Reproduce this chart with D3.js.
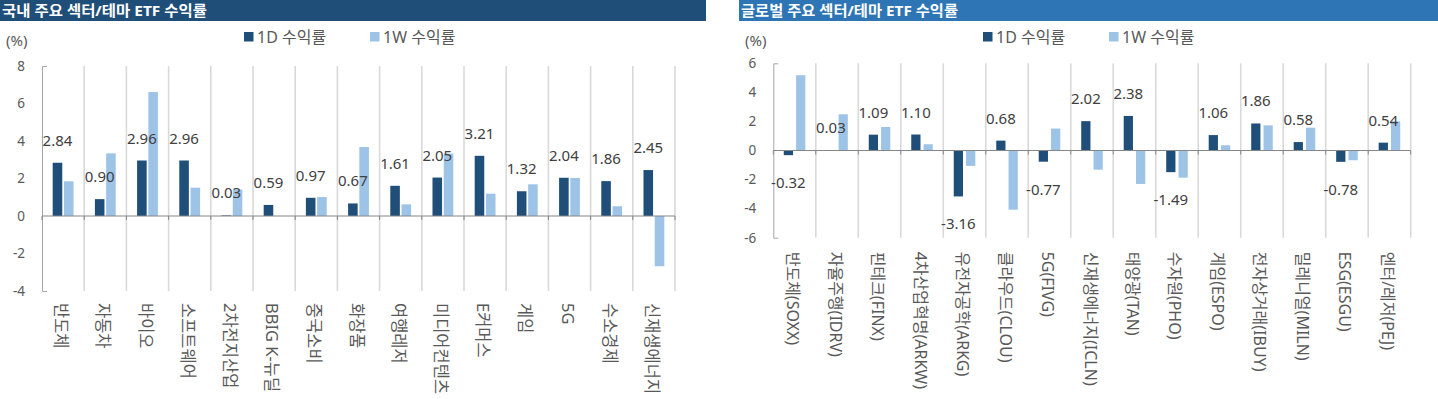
<!DOCTYPE html>
<html>
<head>
<meta charset="utf-8">
<style>
    body { margin: 0; background: #ffffff; }
    #chart { width: 1438px; height: 399px; }
    text { font-family: "Noto Sans", "Noto Sans CJK KR", sans-serif; }
</style>
</head>
<body>
<div id="chart"></div>
<script src="https://cdn.jsdelivr.net/npm/d3@7"></script>
<script>
    // ---- data ----
    const seriesNames = ["1D 수익률", "1W 수익률"];

    const krTitle = "국내 주요 섹터/테마 ETF 수익률";
    const krCategories = ["반도체", "자동차", "바이오", "소프트웨어", "2차전지산업", "BBIG K-뉴딜", "중국소비",
        "화장품", "여행레저", "미디어컨텐츠", "E커머스", "게임", "5G", "수소경제", "신재생에너지"];
    const kr1D = [2.84, 0.90, 2.96, 2.96, 0.03, 0.59, 0.97, 0.67, 1.61, 2.05, 3.21, 1.32, 2.04, 1.86, 2.45];
    const kr1W = [1.85, 3.34, 6.61, 1.51, 1.41, 0, 1.01, 3.68, 0.62, 3.33, 1.19, 1.69, 2.03, 0.52, -2.68];
    const krTicks = [-4, -2, 0, 2, 4, 6, 8];

    const glTitle = "글로벌 주요 섹터/테마 ETF 수익률";
    const glCategories = ["반도체(SOXX)", "자율주행(IDRV)", "핀테크(FINX)", "4차산업혁명(ARKW)", "유전자공학(ARKG)",
        "클라우드(CLOU)", "5G(FIVG)", "신재생에너지(ICLN)", "태양광(TAN)", "수자원(PHO)", "게임(ESPO)",
        "전자상거래(IBUY)", "밀레니얼(MILN)", "ESG(ESGU)", "엔터/레저(PEJ)"];
    const gl1D = [-0.32, 0.03, 1.09, 1.10, -3.16, 0.68, -0.77, 2.02, 2.38, -1.49, 1.06, 1.86, 0.58, -0.78, 0.54];
    const gl1W = [5.18, 2.49, 1.62, 0.43, -1.06, -4.07, 1.51, -1.32, -2.30, -1.87, 0.36, 1.73, 1.57, -0.67, 2.01];
    const glTicks = [-6, -4, -2, 0, 2, 4, 6];

    const colors = ["#1F4E79", "#9DC3E6"];
    // plain hyphen for negatives, like the source
    const fmt = v => d3.format(".2f")(v).replace("\u2212", "-");
    const tickFmt = v => String(v);

    const svg = d3.select("#chart").append("svg")
        .attr("width", 1438)
        .attr("height", 399);

    const drawPanel = (opt) => {
        const g = svg.append("g");

        // title bar
        g.append("rect")
            .attr("x", opt.barX).attr("y", 0)
            .attr("width", opt.barW).attr("height", 21)
            .attr("fill", opt.barColor);
        g.append("text")
            .attr("x", opt.barX + 2).attr("y", 16)
            .attr("fill", "#ffffff")
            .style("font-size", "15px")
            .style("font-weight", "bold")
            .attr("textLength", opt.titleW)
            .attr("lengthAdjust", "spacingAndGlyphs")
            .text(opt.title);

        // unit
        g.append("text")
            .attr("x", opt.barX + 6).attr("y", 46)
            .attr("fill", "#595959")
            .style("font-size", "15px")
            .text("(%)");

        // legend
        const legend = g.selectAll(".legend")
            .data(seriesNames)
            .enter().append("g")
            .attr("transform", (d, i) => `translate(${opt.barX + 244 + i * 126}, 32)`);
        legend.append("rect")
            .attr("width", 9.5).attr("height", 9.5)
            .attr("fill", (d, i) => colors[i]);
        legend.append("text")
            .attr("x", 13).attr("y", 5)
            .attr("dominant-baseline", "central")
            .attr("fill", "#595959")
            .style("font-size", "16px")
            .text(d => d);

        const x = d3.scaleBand()
            .domain(opt.categories)
            .range([opt.left, opt.right]);
        const xs = d3.scaleBand()
            .domain(seriesNames)
            .range([0, x.bandwidth()])
            .paddingInner(opt.pIn)
            .paddingOuter(opt.pOut);
        const y = d3.scaleLinear()
            .domain(d3.extent(opt.ticks))
            .range([opt.bottom, opt.top]);

        // vertical gridlines at category boundaries
        const bounds = opt.categories.map(c => x(c)).concat([opt.right]);
        g.selectAll(".grid")
            .data(bounds.slice(1))
            .enter().append("line")
            .attr("x1", d => d).attr("x2", d => d)
            .attr("y1", opt.top).attr("y2", opt.bottom)
            .attr("stroke", "#D9D9D9")
            .attr("stroke-width", 1.6);

        // y axis
        const yAxis = g.append("g")
            .attr("transform", `translate(${opt.left},0)`)
            .call(d3.axisLeft(y).tickValues(opt.ticks).tickFormat(tickFmt)
                .tickSizeInner(0).tickSizeOuter(-5).tickPadding(17));
        yAxis.select(".domain").attr("stroke", "#A6A6A6");
        yAxis.selectAll("text")
            .attr("fill", "#595959")
            .style("font-size", "13.5px")
            .style("font-family", "'Noto Sans', sans-serif");

        // bars
        const rows = opt.categories.map((c, i) => ({ cat: c, vals: [opt.s1[i], opt.s2[i]] }));
        const groups = g.selectAll(".cat")
            .data(rows)
            .enter().append("g")
            .attr("transform", d => `translate(${x(d.cat)},0)`);
        groups.selectAll("rect")
            .data(d => d.vals.map((v, i) => ({ key: seriesNames[i], v, i })))
            .enter().append("rect")
            .attr("x", d => xs(d.key))
            .attr("width", xs.bandwidth())
            .attr("y", d => y(Math.max(0, d.v)))
            .attr("height", d => Math.abs(y(d.v) - y(0)))
            .attr("fill", d => colors[d.i]);

        // zero line with small ticks
        g.append("line")
            .attr("x1", opt.left).attr("x2", opt.right)
            .attr("y1", y(0)).attr("y2", y(0))
            .attr("stroke", "#868686").attr("stroke-width", 1);
        g.selectAll(".ztick")
            .data(bounds)
            .enter().append("line")
            .attr("x1", d => d).attr("x2", d => d)
            .attr("y1", y(0)).attr("y2", y(0) + 4)
            .attr("stroke", "#868686").attr("stroke-width", 1);

        // 1D value labels
        g.selectAll(".vlabel")
            .data(rows)
            .enter().append("text")
            .attr("x", d => x(d.cat) + xs(seriesNames[0]) + xs.bandwidth() / 2)
            .attr("y", d => d.vals[0] >= 0 ? y(d.vals[0]) - 23 : y(d.vals[0]) + 27)
            .attr("text-anchor", "middle")
            .attr("dominant-baseline", "central")
            .attr("fill", "#404040")
            .style("font-size", "15px")
            .text(d => fmt(d.vals[0]));

        // category labels, rotated
        g.selectAll(".clabel")
            .data(opt.categories)
            .enter().append("text")
            .attr("transform", d => `translate(${x(d) + x.bandwidth() / 2 - 1.5},${opt.bottom + opt.labelGap}) rotate(90)`)
            .attr("dominant-baseline", "central")
            .attr("fill", "#595959")
            .style("font-size", opt.labelSize)
            .text(d => d);
    };

    drawPanel({
        barX: 0, barW: 706, barColor: "#1F4E79", title: krTitle, titleW: 205,
        categories: krCategories, s1: kr1D, s2: kr1W, ticks: krTicks,
        left: 42, right: 675, top: 66, bottom: 291, labelGap: 12, labelSize: "16.5px",
        pIn: 0.15, pOut: 0.95
    });

    drawPanel({
        barX: 739, barW: 699, barColor: "#2E75B6", title: glTitle, titleW: 217,
        categories: glCategories, s1: gl1D, s2: gl1W, ticks: glTicks,
        left: 773.3, right: 1410.7, top: 63.3, bottom: 237.7, labelGap: 14, labelSize: "16px",
        pIn: 0.25, pOut: 0.85
    });
</script>
</body>
</html>
